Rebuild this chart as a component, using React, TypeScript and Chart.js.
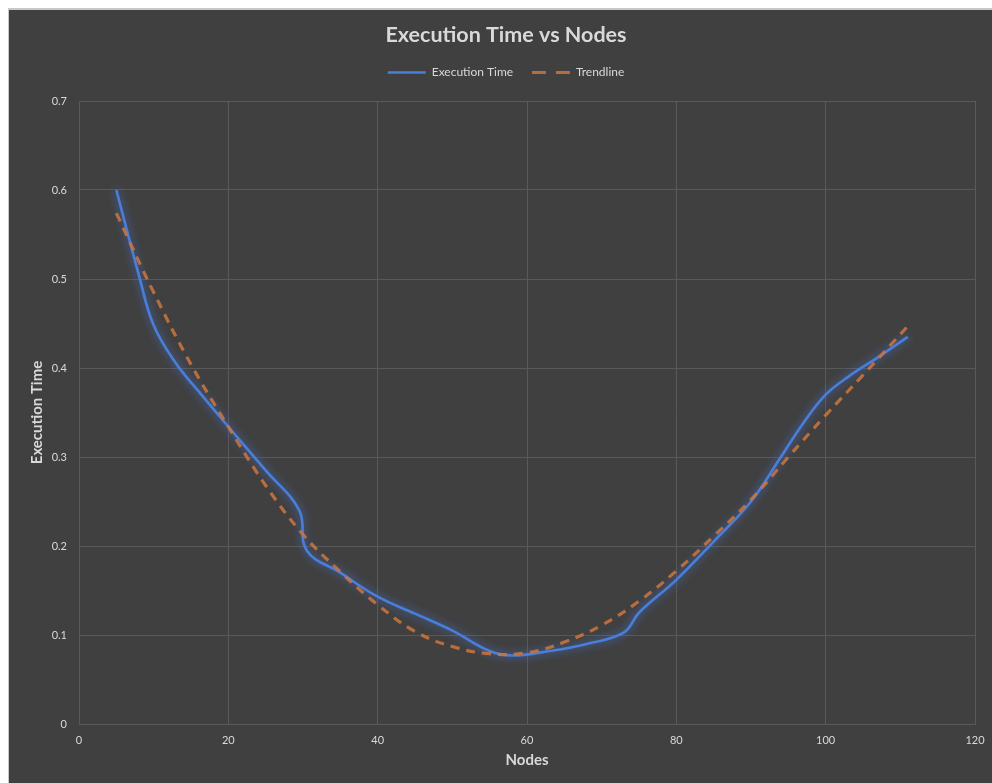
import React, { useEffect, useRef } from "react";
import { Chart, registerables } from "chart.js";

Chart.register(...registerables);

const chartTitle = "Execution Time vs Nodes";
const xTitle = "Nodes";
const yTitle = "Execution Time";
const seriesName = "Execution Time";
const trendName = "Trendline";

// Measured execution time (smoothed line in the original)
const nodes = [5, 8, 10, 13, 16, 20, 25, 29.5, 30.5, 35, 40, 45, 50, 55, 58, 63, 68, 73, 75, 80, 85, 90, 94, 97, 100, 103, 107, 111];
const times = [0.6, 0.505, 0.448, 0.405, 0.374, 0.334, 0.285, 0.24, 0.195, 0.17, 0.143, 0.124, 0.105, 0.082, 0.077, 0.082, 0.09, 0.103, 0.125, 0.162, 0.205, 0.25, 0.3, 0.338, 0.37, 0.39, 0.412, 0.435];

// Trendline values
const trendNodes = [5, 10, 15, 20, 25, 30, 35, 40, 45, 50, 55, 60, 65, 70, 75, 80, 85, 90, 95, 100, 105, 111];
const trendTimes = [0.574, 0.485, 0.404, 0.334, 0.268, 0.213, 0.171, 0.134, 0.104, 0.087, 0.079, 0.08, 0.092, 0.111, 0.138, 0.172, 0.211, 0.252, 0.3, 0.347, 0.392, 0.447];

const xMin = 0, xMax = 120, xStep = 20;
const yMin = 0, yMax = 0.7, yStep = 0.1;

const FONT = "Lato, 'Open Sans', sans-serif";
const BG = "#404040";
const TEXT = "#d9d9d9";
const GRID = "#595959";
const BLUE = "#4a7ed8";
const ORANGE = "rgba(205,118,62,0.85)";
const TREND_DASH = [9, 7];
const LEGEND_MARK = 38;

const glowPlugin = {
  id: "glow",
  beforeDatasetDraw(chart: any, args: any) {
    if (args.index === 1) {
      const ctx = chart.ctx;
      ctx.save();
      ctx.shadowColor = "rgba(70,125,235,0.85)";
      ctx.shadowBlur = 9;
    }
  },
  afterDatasetDraw(chart: any, args: any) {
    if (args.index === 1) chart.ctx.restore();
  },
};

// Re-draw the trendline's legend marker as a dashed line
const dashedLegendPlugin = {
  id: "dashedLegend",
  afterDraw(chart: any) {
    const legend = chart.legend;
    if (!legend || !legend.legendItems) return;
    const idx = legend.legendItems.findIndex((it: any) => it.text === trendName);
    const hb = legend.legendHitBoxes && legend.legendHitBoxes[idx];
    if (!hb) return;
    const ctx = chart.ctx;
    const cy = hb.top + hb.height / 2;
    ctx.save();
    ctx.fillStyle = BG;
    ctx.fillRect(hb.left - 1, cy - 4, LEGEND_MARK + 2, 8);
    ctx.strokeStyle = ORANGE;
    ctx.lineWidth = 3.2;
    ctx.setLineDash([14, 10]);
    ctx.beginPath();
    ctx.moveTo(hb.left, cy);
    ctx.lineTo(hb.left + LEGEND_MARK, cy);
    ctx.stroke();
    ctx.restore();
  },
};

export default function App() {
  const ref = useRef<HTMLCanvasElement | null>(null);
  useEffect(() => {
    if (!ref.current) return;
    const chart = new Chart(ref.current, {
      type: "line",
      data: {
        datasets: [
          {
            label: trendName,
            data: trendNodes.map((x, i) => ({ x, y: trendTimes[i] })),
            borderColor: ORANGE,
            backgroundColor: ORANGE,
            borderWidth: 3.2,
            borderDash: TREND_DASH,
            pointRadius: 0,
            tension: 0.4,
            fill: false,
          },
          {
            label: seriesName,
            data: nodes.map((x, i) => ({ x, y: times[i] })),
            borderColor: BLUE,
            backgroundColor: BLUE,
            borderWidth: 2.6,
            pointRadius: 0,
            tension: 0.4,
            fill: false,
          },
        ],
      },
      options: {
        animation: false,
        responsive: false,
        devicePixelRatio: 1,
        layout: { padding: 0 },
        plugins: {
          title: {
            display: true,
            text: chartTitle,
            color: TEXT,
            font: { family: FONT, size: 21.5, weight: "bold" },
            padding: { top: 12, bottom: 0 },
          },
          subtitle: {
            display: true,
            text: "",
            position: "top",
            weight: 500,
            font: { size: 10, lineHeight: 1 },
            padding: { top: 0, bottom: 2.5 },
          } as any,
          legend: {
            display: true,
            reverse: true,
            labels: {
              color: TEXT,
              font: { family: FONT, size: 12 },
              usePointStyle: true,
              pointStyle: "line",
              pointStyleWidth: LEGEND_MARK,
              padding: 18.7,
            },
          },
          tooltip: { enabled: false },
        },
        scales: {
          x: {
            type: "linear",
            min: xMin,
            max: xMax,
            ticks: { stepSize: xStep, color: TEXT, font: { family: FONT, size: 11 }, padding: 10 },
            grid: { color: GRID, drawTicks: false, lineWidth: 1 },
            border: { color: GRID },
            title: { display: true, text: xTitle, color: TEXT, font: { family: FONT, size: 15, weight: "bold" }, padding: { top: 0, bottom: 14 } },
            afterFit: (s: any) => { s.height = 59; },
          },
          y: {
            type: "linear",
            min: yMin,
            max: yMax,
            ticks: { stepSize: yStep, color: TEXT, font: { family: FONT, size: 11 }, padding: 12 },
            grid: { color: GRID, drawTicks: false, lineWidth: 1 },
            border: { color: GRID },
            title: { display: true, text: yTitle, color: TEXT, font: { family: FONT, size: 15, weight: "bold" }, padding: { top: 19, bottom: 0 } },
            afterFit: (s: any) => { s.width = 70; },
          },
          spacerRight: {
            type: "linear",
            position: "right",
            display: true,
            ticks: { display: false },
            grid: { display: false, drawOnChartArea: false, drawTicks: false },
            border: { display: false },
            title: { display: false },
            afterFit: (s: any) => { s.width = 28; },
          },
        },
      } as any,
      plugins: [glowPlugin, dashedLegendPlugin],
    });
    return () => chart.destroy();
  }, []);

  return (
    <div
      style={{
        position: "fixed",
        left: 8,
        top: 8,
        width: 984,
        height: 775,
        boxSizing: "border-box",
        borderTop: "2px solid #c8c8c8",
        borderLeft: "1px solid #c8c8c8",
        background: BG,
        overflow: "hidden",
      }}
    >
      <canvas ref={ref} width={994} height={773} style={{ display: "block" }} />
    </div>
  );
}
